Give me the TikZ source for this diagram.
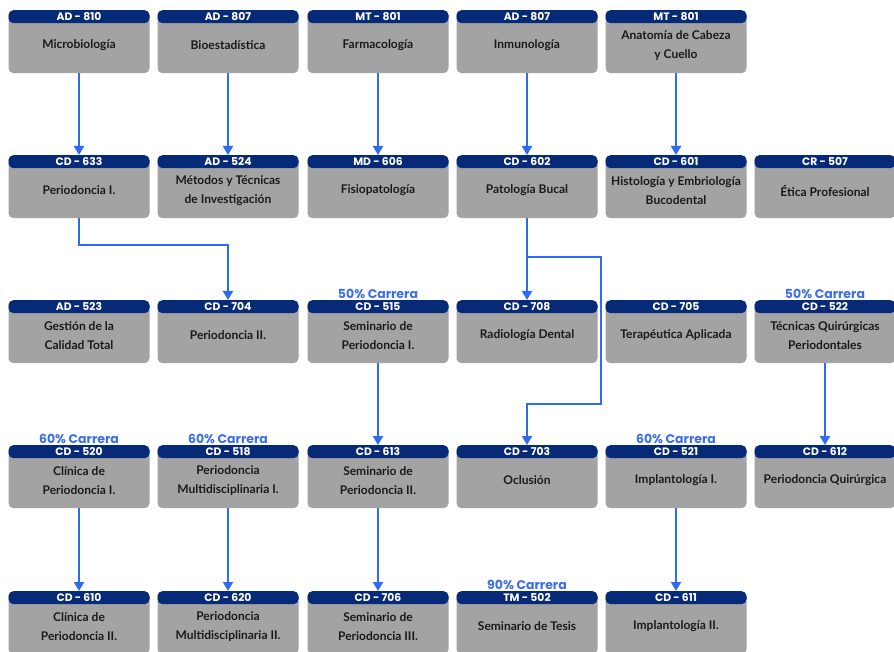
\documentclass[tikz,border=0pt]{standalone}
\usepackage{fontspec}
\setmainfont{Lato}
\newfontfamily\headfont{Poppins}
\usetikzlibrary{arrows.meta,calc}
\definecolor{navy}{HTML}{062A78}
\definecolor{cardgrey}{HTML}{A3A3A3}
\definecolor{linkblue}{HTML}{2F6BF2}
\definecolor{pctblue}{HTML}{3D6FE6}
\definecolor{txt}{HTML}{1A1A1A}
\tikzset{
 card/.style={draw=none, fill=cardgrey, rounded corners=5pt, minimum width=141pt, minimum height=63pt, inner sep=0pt, anchor=north},
 head/.style={fill=navy, rounded corners=5pt, minimum width=141pt, minimum height=13pt, inner sep=0pt, text=white, font=\headfont\bfseries\fontsize{10.8}{10}\selectfont, anchor=north},
 ctext/.style={font=\bfseries\fontsize{12}{18.8}\selectfont, align=center, text=txt, inner sep=0pt},
 pct/.style={font=\headfont\bfseries\fontsize{12.5}{12}\selectfont, text=pctblue, anchor=south, inner sep=0pt, yshift=1.5pt},
 link/.style={draw=linkblue, line width=2pt, -{Triangle[width=10pt,length=9pt]}},
}
\newcommand\mycard[5]{%
 \node[card] (#1) at (#2,#3) {};
 \node[head] (#1h) at (#1.north) {#4};
 \node[ctext] (#1t) at ($(#1.north)+(0,35.5)$) {#5};
}
\begin{document}
\begin{tikzpicture}[x=1pt,y=-1pt]
\useasboundingbox[fill=white] (0,0) rectangle (894,652);
% row 1
\mycard{c11}{79}{10}{AD - 810}{Microbiología}
\mycard{c12}{228}{10}{AD - 807}{Bioestadística}
\mycard{c13}{378}{10}{MT - 801}{Farmacología}
\mycard{c14}{527}{10}{AD - 807}{Inmunología}
\mycard{c15}{676}{10}{MT - 801}{Anatomía de Cabeza\\y Cuello}
% row 2
\mycard{c21}{79}{155}{CD - 633}{Periodoncia I.}
\mycard{c22}{228}{155}{AD - 524}{Métodos y Técnicas\\de Investigación}
\mycard{c23}{378}{155}{MD - 606}{Fisiopatología}
\mycard{c24}{527}{155}{CD - 602}{Patología Bucal}
\mycard{c25}{676}{155}{CD - 601}{Histología y Embriología\\Bucodental}
\mycard{c26}{825}{155}{CR - 507}{Ética Profesional}
% row 3
\mycard{c31}{79}{300}{AD - 523}{Gestión de la\\Calidad Total}
\mycard{c32}{228}{300}{CD - 704}{Periodoncia II.}
\mycard{c33}{378}{300}{CD - 515}{Seminario de\\Periodoncia I.}
\mycard{c34}{527}{300}{CD - 708}{Radiología Dental}
\mycard{c35}{676}{300}{CD - 705}{Terapéutica Aplicada}
\mycard{c36}{825}{300}{CD - 522}{Técnicas Quirúrgicas\\Periodontales}
% row 4
\mycard{c41}{79}{445}{CD - 520}{Clínica de\\Periodoncia I.}
\mycard{c42}{228}{445}{CD - 518}{Periodoncia\\Multidisciplinaria I.}
\mycard{c43}{378}{445}{CD - 613}{Seminario de\\Periodoncia II.}
\mycard{c44}{527}{445}{CD - 703}{Oclusión}
\mycard{c45}{676}{445}{CD - 521}{Implantología I.}
\mycard{c46}{825}{445}{CD - 612}{Periodoncia Quirúrgica}
% row 5
\mycard{c51}{79}{591}{CD - 610}{Clínica de\\Periodoncia II.}
\mycard{c52}{228}{591}{CD - 620}{Periodoncia\\Multidisciplinaria II.}
\mycard{c53}{378}{591}{CD - 706}{Seminario de\\Periodoncia III.}
\mycard{c54}{527}{591}{TM - 502}{Seminario de Tesis}
\mycard{c55}{676}{591}{CD - 611}{Implantología II.}
% percentage labels
\node[pct] (p33) at (c33.north) {50\% Carrera};
\node[pct] (p36) at (c36.north) {50\% Carrera};
\node[pct] (p41) at (c41.north) {60\% Carrera};
\node[pct] (p42) at (c42.north) {60\% Carrera};
\node[pct] (p45) at (c45.north) {60\% Carrera};
\node[pct] (p54) at (c54.north) {90\% Carrera};
% connectors
\draw[link] (c11.south) -- (c21.north);
\draw[link] (c12.south) -- (c22.north);
\draw[link] (c13.south) -- (c23.north);
\draw[link] (c14.south) -- (c24.north);
\draw[link] (c15.south) -- (c25.north);
\draw[link] (c21.south) -- ++(0,27) -| (c32.north);
\draw[link] (c24.south) -- (c34.north);
\coordinate (br) at ($(c24.south)+(0,39)$);
\draw[link] (br) -- ++(74,0) -- ++(0,147) -| (c44.north);
\draw[link] (c33.south) -- (c43.north);
\draw[link] (c36.south) -- (c46.north);
\draw[link] (c41.south) -- (c51.north);
\draw[link] (c42.south) -- (c52.north);
\draw[link] (c43.south) -- (c53.north);
\draw[link] (c45.south) -- (c55.north);
\end{tikzpicture}
\end{document}
